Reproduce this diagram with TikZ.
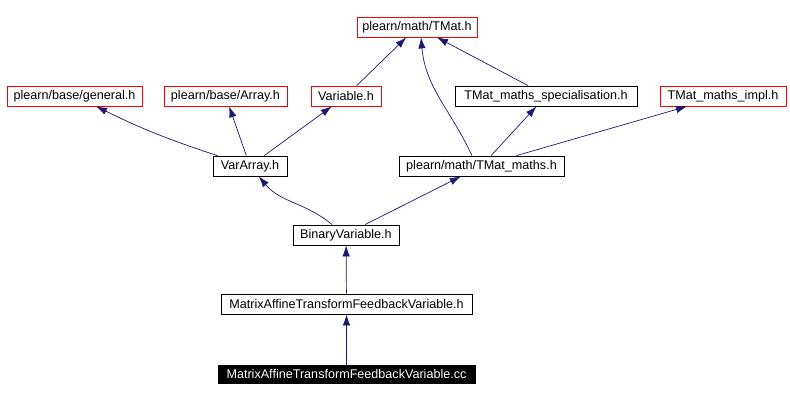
\documentclass[tikz,border=0pt]{standalone}
\usepackage{fontspec}
\setmainfont{Liberation Sans}
\usetikzlibrary{arrows.meta}
\definecolor{edgeblue}{RGB}{25,25,112}
\begin{document}
\begin{tikzpicture}[x=1pt,y=1pt,
  file/.style={draw=black,line width=0.8pt,inner sep=0pt,minimum height=20pt,font=\fontsize{12.6}{14}\selectfont},
  extfile/.style={file,draw=red},
  rootfile/.style={file,fill=black,text=white,draw=black},
  dep/.style={draw=edgeblue,line width=0.7pt,-{Latex[length=11pt,width=7.5pt]}}]
\useasboundingbox (0,0) rectangle (790,-401);
% top row
\node[extfile,minimum width=120pt] (tmat) at (417,-27) {plearn/math/TMat.h};
% headers
\node[extfile,minimum width=135pt] (general) at (74.5,-96) {plearn/base/general.h};
\node[extfile,minimum width=123pt] (array) at (225.5,-96) {plearn/base/Array.h};
\node[extfile,minimum width=70pt] (variable) at (346,-96) {Variable.h};
\node[file,minimum width=182pt] (spec) at (546,-96) {TMat\_maths\_specialisation.h};
\node[extfile,minimum width=126pt] (impl) at (723,-96) {TMat\_maths\_impl.h};
% middle
\node[file,minimum width=74pt] (vararray) at (250,-166) {VarArray.h};
\node[file,minimum width=165pt] (tmaths) at (481.5,-166) {plearn/math/TMat\_maths.h};
\node[file,minimum width=106pt] (binvar) at (346,-235) {BinaryVariable.h};
\node[file,minimum width=251pt] (matfbh) at (346.5,-304) {MatrixAffineTransformFeedbackVariable.h};
\node[rootfile,minimum width=257pt,minimum height=18pt] (matfbcc) at (346.5,-374) {MatrixAffineTransformFeedbackVariable.cc};
% dependencies
\draw[dep] (matfbcc) -- (matfbh);
\draw[dep] (matfbh) -- (binvar);
\draw[dep] ([xshift=-14pt]binvar.north) to[out=140,in=-50] (vararray);
\draw[dep] ([xshift=19pt]binvar.north) -- (tmaths);
\draw[dep] (vararray) to[bend left=4] (general);
\draw[dep] (vararray) -- (array);
\draw[dep] (vararray) -- (variable);
\draw[dep] (variable) -- (tmat);
\draw[dep] ([xshift=-9.5pt]tmaths.north) to[out=115,in=-85] ([xshift=4pt]tmat.south);
\draw[dep] (tmaths) -- (spec);
\draw[dep] ([xshift=35pt]tmaths.north) -- (impl);
\draw[dep] ([xshift=-18pt]spec.north) -- ([xshift=20pt]tmat.south);
\end{tikzpicture}
\end{document}
